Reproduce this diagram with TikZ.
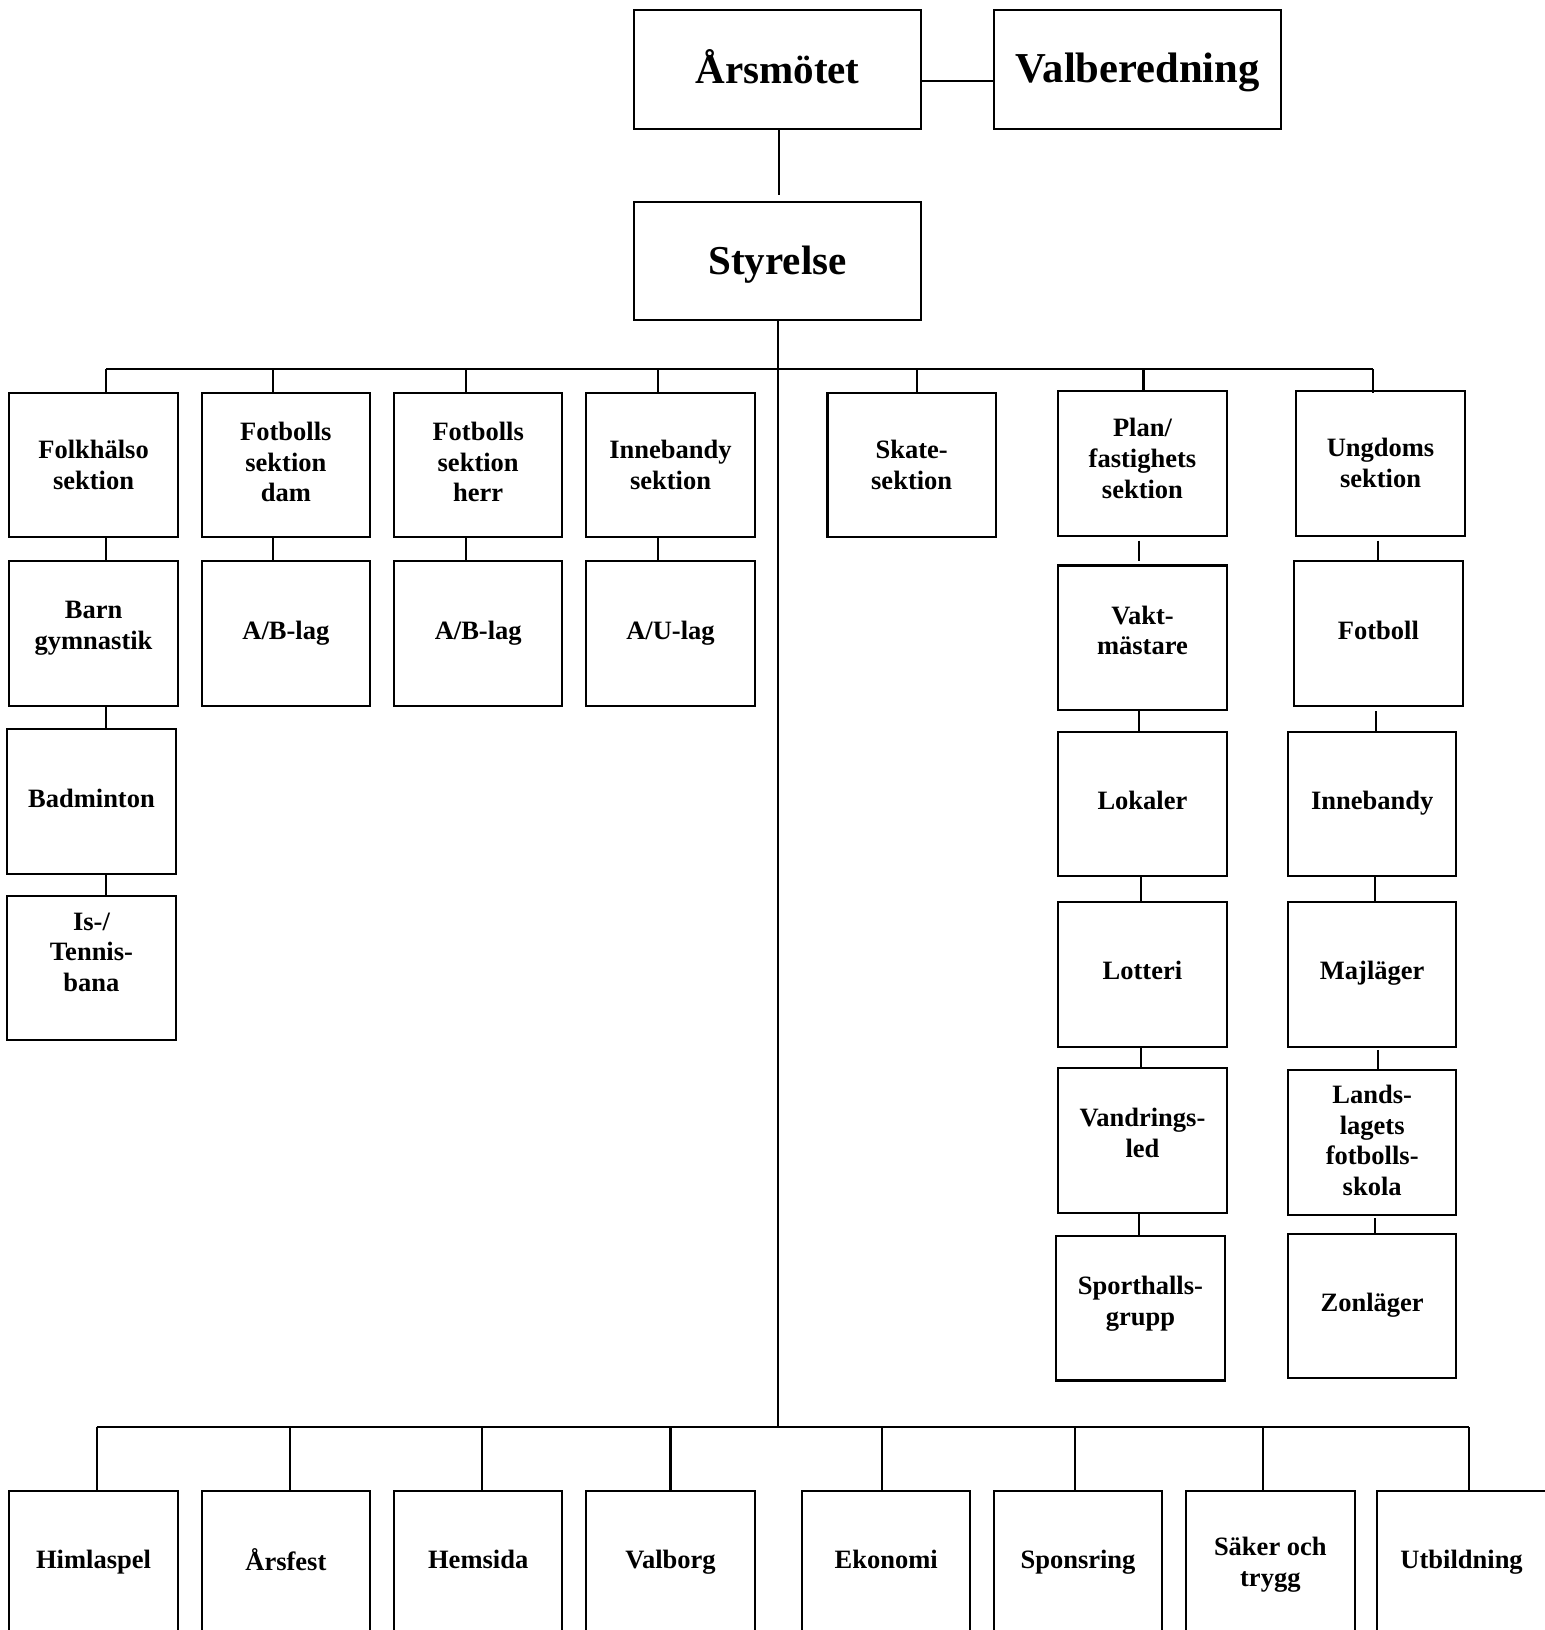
\documentclass[tikz,border=0pt]{standalone}
\usepackage{fontspec}
\setmainfont{Liberation Serif}
\begin{document}
\begin{tikzpicture}[x=1pt,y=-1pt,
  line width=2pt,
  bx/.style={draw, line width=2pt, rectangle, inner sep=0pt, minimum width=162pt, minimum height=139pt},
  topbx/.style={draw, line width=2pt, rectangle, inner sep=0pt, minimum width=276pt, minimum height=114pt},
  lbl/.style={align=center, inner sep=0pt, font=\bfseries\fontsize{25.5}{29.5}\selectfont},
  toplbl/.style={align=center, inner sep=0pt, font=\bfseries\fontsize{39.5}{45}\selectfont},
  conn/.style={line width=2pt}]
\useasboundingbox (0,0) rectangle (1486,1568);
\fill[white] (0,0) rectangle (1486,1568);

% top level
\node[topbx, label={[toplbl,name=tArs,yshift=3pt]center:Årsmötet}] (ars) at (748,67) {};
\node[topbx, label={[toplbl,name=tVal,yshift=-3pt,font=\bfseries\fontsize{41}{45}\selectfont]center:Valberedning}] (val) at (1094.5,67) {};
\node[topbx, label={[toplbl,name=tSty,yshift=-4pt]center:Styrelse}] (sty) at (748,251) {};

\draw[conn] (ars.east |- 0,78) -- (val.west |- 0,78);
\draw[conn] (ars.south -| 749,0) -- (749,188);

% buses
\coordinate (busTL) at (102,355);
\coordinate (busTR) at (1321,355);
\coordinate (busBL) at (93,1373);
\coordinate (busBR) at (1413,1373);
\coordinate (spine) at (748,1373);
\draw[conn] (busTL) -- (busTR);
\draw[conn] (busBL) -- (busBR);
\draw[conn] (sty.south) -- (spine);

% row 1
\node[bx, label={[lbl,name=tFolk,yshift=0.5pt]center:Folkhälso\\sektion}] (folk) at (90,447.5) {};
\node[bx, label={[lbl,name=tFdam,yshift=3pt]center:Fotbolls\\sektion\\dam}] (fdam) at (275,447.5) {};
\node[bx, label={[lbl,name=tFherr,yshift=3pt]center:Fotbolls\\sektion\\herr}] (fherr) at (460,447.5) {};
\node[bx, label={[lbl,name=tInne,yshift=0.5pt]center:Innebandy\\sektion}] (inne) at (645,447.5) {};
\node[bx, label={[lbl,name=tSkate,yshift=0.5pt]center:Skate-\\sektion}] (skate) at (877,447.5) {};
\node[bx, label={[lbl,name=tPlan,yshift=5pt]center:Plan/\\fastighets\\sektion}] (plan) at (1099,446) {};
\node[bx, label={[lbl,name=tUng,yshift=1pt]center:Ungdoms\\sektion}] (ung) at (1328,446) {};

\coordinate (c1) at (102,355);
\coordinate (c2) at (263,355);
\coordinate (c3) at (448,355);
\coordinate (c4) at (633,355);
\coordinate (c5) at (882,355);
\coordinate (c6) at (1100,355);
\coordinate (c7) at (1321,355);
\draw[conn] (c1) -- (c1 |- folk.north);
\draw[conn] (c2) -- (c2 |- fdam.north);
\draw[conn] (c3) -- (c3 |- fherr.north);
\draw[conn] (c4) -- (c4 |- inne.north);
\draw[conn] (c5) -- (c5 |- skate.north);
\draw[conn] (c6) -- (c6 |- plan.north);
\draw[conn] (c7) -- (1321,378);

% row 2
\node[bx, label={[lbl,name=tBarn,yshift=5pt]center:Barn\\gymnastik}] (barn) at (90,609.5) {};
\node[bx, label={[lbl,name=tAB1,yshift=0pt]center:A/B-lag}] (ab1) at (275,609.5) {};
\node[bx, label={[lbl,name=tAB2,yshift=0pt]center:A/B-lag}] (ab2) at (460,609.5) {};
\node[bx, label={[lbl,name=tAU,yshift=0pt]center:A/U-lag}] (au) at (645,609.5) {};
\node[bx, label={[lbl,name=tVakt,yshift=7pt]center:Vakt-\\mästare}] (vakt) at (1099,613.5) {};
\node[bx, label={[lbl,name=tFotb,yshift=3pt]center:Fotboll}] (fotb) at (1326,609.5) {};

\draw[conn] (folk.south -| c1) -- (barn.north -| c1);
\draw[conn] (fdam.south -| c2) -- (ab1.north -| c2);
\draw[conn] (fherr.south -| c3) -- (ab2.north -| c3);
\draw[conn] (inne.south -| c4) -- (au.north -| c4);
\draw[conn] (1096,520) -- (1096,540);
\draw[conn] (1326,520) -- (fotb.north -| 1326,0);

% row 3
\node[bx, label={[lbl,name=tBad,yshift=3pt]center:Badminton}] (bad) at (88,771) {};
\node[bx, label={[lbl,name=tLok,yshift=4pt]center:Lokaler}] (lok) at (1099,773.5) {};
\node[bx, label={[lbl,name=tInn2,yshift=1pt]center:Innebandy}] (inn2) at (1320,773.5) {};

\draw[conn] (barn.south -| c1) -- (bad.north -| c1);
\draw[conn] (vakt.south -| 1096,0) -- (lok.north -| 1096,0);
\draw[conn] (1324,684) -- (inn2.north -| 1324,0);

% row 4
\node[bx, label={[lbl,name=tIs,yshift=15pt]center:Is-/\\Tennis-\\bana}] (is) at (88,931) {};
\node[bx, label={[lbl,name=tLot,yshift=4pt]center:Lotteri}] (lot) at (1099,937.5) {};
\node[bx, label={[lbl,name=tMaj,yshift=1pt]center:Majläger}] (maj) at (1320,937.5) {};

\draw[conn] (bad.south -| c1) -- (is.north -| c1);
\draw[conn] (lok.south -| 1098,0) -- (lot.north -| 1098,0);
\draw[conn] (inn2.south -| 1323,0) -- (maj.north -| 1323,0);

% row 5
\node[bx, label={[lbl,name=tVand,yshift=7pt]center:Vandrings-\\led}] (vand) at (1099,1097) {};
\node[bx, label={[lbl,name=tLand,yshift=2pt]center:Lands-\\lagets\\fotbolls-\\skola}] (land) at (1320,1099) {};

\draw[conn] (lot.south -| 1098,0) -- (vand.north -| 1098,0);
\draw[conn] (1326,1010) -- (land.north -| 1326,0);

% row 6
\node[bx, label={[lbl,name=tSpo,yshift=4.5pt]center:Sporthalls-\\grupp}] (spo) at (1097,1258.5) {};
\node[bx, label={[lbl,name=tZon,yshift=1pt]center:Zonläger}] (zon) at (1320,1256.5) {};

\draw[conn] (vand.south -| 1096,0) -- (spo.north -| 1096,0);
\draw[conn] (1323,1172) -- (zon.north -| 1323,0);

% bottom row
\node[bx, label={[lbl,name=tHim,yshift=0.5pt]center:Himlaspel}] (him) at (90,1503.5) {};
\node[bx, label={[lbl,name=tArsf,yshift=3pt]center:Årsfest}] (arsf) at (275,1503.5) {};
\node[bx, label={[lbl,name=tHem,yshift=3pt]center:Hemsida}] (hem) at (460,1503.5) {};
\node[bx, label={[lbl,name=tValb,yshift=1pt]center:Valborg}] (valb) at (645,1503.5) {};
\node[bx, label={[lbl,name=tEko,yshift=3pt]center:Ekonomi}] (eko) at (852.5,1503.5) {};
\node[bx, label={[lbl,name=tSpon,yshift=1pt]center:Sponsring}] (spon) at (1037,1503.5) {};
\node[bx, label={[lbl,name=tSak,yshift=-2pt]center:Säker och\\trygg}] (sak) at (1222,1503.5) {};
\node[bx, label={[lbl,name=tUtb,yshift=1pt]center:Utbildning}] (utb) at (1406,1503.5) {};

\coordinate (b1) at (93,1373);
\coordinate (b2) at (279,1373);
\coordinate (b3) at (464,1373);
\coordinate (b4) at (645,1373);
\coordinate (b5) at (848,1373);
\coordinate (b6) at (1034,1373);
\coordinate (b7) at (1215,1373);
\coordinate (b8) at (1413,1373);
\draw[conn] (b1) -- (b1 |- him.north);
\draw[conn] (b2) -- (b2 |- arsf.north);
\draw[conn] (b3) -- (b3 |- hem.north);
\draw[conn] (b4) -- (b4 |- valb.north);
\draw[conn] (b5) -- (b5 |- eko.north);
\draw[conn] (b6) -- (b6 |- spon.north);
\draw[conn] (b7) -- (b7 |- sak.north);
\draw[conn] (b8) -- (b8 |- utb.north);
\end{tikzpicture}
\end{document}
